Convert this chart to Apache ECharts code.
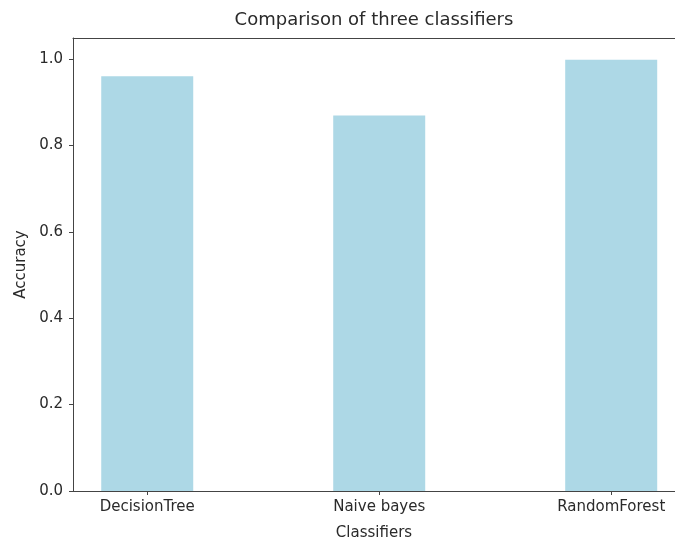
<!DOCTYPE html>
<html>
<head>
<meta charset="utf-8">
<script src="https://cdn.jsdelivr.net/npm/echarts@6/dist/echarts.min.js"></script>
<style>html,body{margin:0;padding:0;background:#fff;}#c{width:675px;height:543px;}</style>
</head>
<body>
<div id="c"></div>
<script>
const categories = ['DecisionTree', 'Naive bayes', 'RandomForest'];
const accuracy = [0.96, 0.869, 0.998];
const yTicks = [0, 0.2, 0.4, 0.6, 0.8, 1.0];

const chart = echarts.init(document.getElementById('c'));
const font = 'DejaVu Sans';
const txt = '#2a2a2a';
chart.setOption({
  animation: false,
  backgroundColor: '#fff',
  title: {
    text: 'Comparison of three classifiers',
    left: 369, top: 6, textAlign: 'center',
    textStyle: { fontFamily: font, fontSize: 18, fontWeight: 'normal', color: txt }
  },
  grid: { left: 73, top: 38, right: 0, bottom: 52, outerBoundsMode: 'none' },
  xAxis: [{
    type: 'value', min: -0.32, max: 2.275,
    splitLine: { show: false },
    axisLine: { show: true, onZero: false, lineStyle: { color: '#444' } },
    axisTick: { show: true, customValues: [0, 1, 2], length: 4, lineStyle: { color: '#444' } },
    axisLabel: {
      customValues: [0, 1, 2],
      formatter: v => categories[Math.round(v)],
      fontFamily: font, fontSize: 15, color: txt, margin: 9
    },
    name: 'Classifiers', nameLocation: 'middle', nameGap: 35,
    nameTextStyle: { fontFamily: font, fontSize: 15, color: txt }
  }, {
    type: 'value', position: 'top', min: -0.32, max: 2.275,
    splitLine: { show: false },
    axisLine: { show: true, onZero: false, lineStyle: { color: '#444' } },
    axisTick: { show: false }, axisLabel: { show: false }
  }],
  yAxis: {
    type: 'value', min: 0, max: 1.0486, interval: 0.2,
    splitLine: { show: false },
    axisLine: { show: true, onZero: false, lineStyle: { color: '#444' } },
    axisTick: { show: true, length: 4, lineStyle: { color: '#444' } },
    axisLabel: {
      showMaxLabel: false,
      formatter: v => v.toFixed(1),
      fontFamily: font, fontSize: 15, color: txt, margin: 10
    },
    name: 'Accuracy', nameLocation: 'middle', nameGap: 40, nameRotate: 90,
    nameTextStyle: { fontFamily: font, fontSize: 15, color: txt }
  },
  series: [{
    type: 'bar',
    xAxisIndex: 0,
    data: accuracy.map((v, i) => [i, v]),
    barWidth: 92,
    itemStyle: { color: '#add8e6' }
  }]
});
</script>
</body>
</html>
